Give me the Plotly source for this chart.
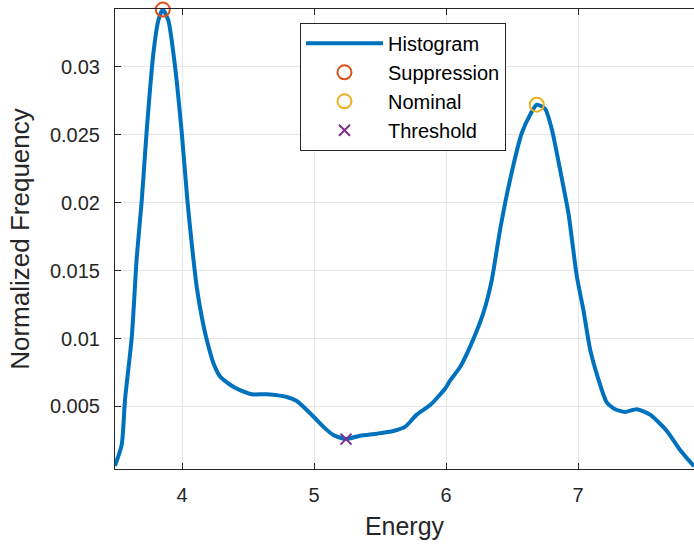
import plotly.graph_objects as go

# Histogram curve (Energy vs normalized frequency)
energy = [3.492, 3.543, 3.568, 3.619, 3.657, 3.695, 3.733, 3.783, 3.820, 3.854,
          3.896, 3.947, 3.998, 4.040, 4.073, 4.111, 4.149, 4.187, 4.237, 4.288,
          4.364, 4.439, 4.528, 4.642, 4.793, 4.869, 4.970, 5.071, 5.146, 5.242,
          5.348, 5.475, 5.601, 5.689, 5.778, 5.879, 5.992, 6.030, 6.106, 6.182,
          6.283, 6.346, 6.409, 6.485, 6.573, 6.636, 6.687, 6.750, 6.801, 6.864,
          6.927, 6.990, 7.040, 7.091, 7.154, 7.217, 7.280, 7.356, 7.444, 7.545,
          7.672, 7.773, 7.878]
freq = [0.00064, 0.0022, 0.0055, 0.0101, 0.0160, 0.0202, 0.0254, 0.0310, 0.0334, 0.0342,
        0.0334, 0.0300, 0.0251, 0.0202, 0.0170, 0.0138, 0.0116, 0.0099, 0.0082, 0.0072,
        0.0066, 0.0062, 0.0059, 0.0059, 0.0057, 0.0054, 0.0045, 0.0035, 0.0029, 0.0026,
        0.00285, 0.0030, 0.0032, 0.0035, 0.0044, 0.0051, 0.0063, 0.0069, 0.0079, 0.0094,
        0.0119, 0.0143, 0.0180, 0.0217, 0.0251, 0.02645, 0.0272, 0.0269, 0.0254, 0.0224,
        0.0192, 0.0146, 0.0121, 0.0092, 0.0070, 0.0053, 0.0048, 0.0046, 0.0048, 0.0044,
        0.0032, 0.0018, 0.0006]

suppression_x = [3.854]
suppression_y = [0.0342]
nominal_x = [6.687]
nominal_y = [0.0272]
threshold_x = [5.242]
threshold_y = [0.0026]

x_ticks = [4, 5, 6, 7]
x_ticklabels = ["4", "5", "6", "7"]
y_ticks = [0.005, 0.01, 0.015, 0.02, 0.025, 0.03]
y_ticklabels = ["0.005", "0.01", "0.015", "0.02", "0.025", "0.03"]

FONT = "Liberation Sans, Arial, Helvetica, sans-serif"
TXT = "#262626"

fig = go.Figure()
fig.add_trace(go.Scatter(x=energy, y=freq, mode="lines", name="Histogram",
                         line=dict(color="#0072BD", width=4, shape="spline", smoothing=0.6),
                         cliponaxis=False))
fig.add_trace(go.Scatter(x=suppression_x, y=suppression_y, mode="markers", name="Suppression",
                         marker=dict(symbol="circle-open", size=14, color="#D95319",
                                     line=dict(width=2, color="#D95319")), cliponaxis=False))
fig.add_trace(go.Scatter(x=nominal_x, y=nominal_y, mode="markers", name="Nominal",
                         marker=dict(symbol="circle-open", size=14, color="#EDB120",
                                     line=dict(width=2, color="#EDB120")), cliponaxis=False))
fig.add_trace(go.Scatter(x=threshold_x, y=threshold_y, mode="markers", name="Threshold",
                         marker=dict(symbol="x-thin-open", size=11, color="#7E2F8E",
                                     line=dict(width=2, color="#7E2F8E")), cliponaxis=False))

fig.update_layout(
    width=694, height=544,
    margin=dict(l=115, r=0, t=9, b=75),
    paper_bgcolor="white", plot_bgcolor="white",
    font=dict(family=FONT, size=20, color=TXT),
    showlegend=True,
    legend=dict(x=0.3195, y=0.97, xanchor="left", yanchor="top",
                bgcolor="white", bordercolor=TXT, borderwidth=1,
                font=dict(size=20, color="black"), itemwidth=77,
                tracegroupgap=0),
)
fig.update_xaxes(range=[3.492, 7.878], tickvals=x_ticks, ticktext=x_ticklabels,
                 showline=True, linecolor=TXT, linewidth=1, mirror="ticks",
                 ticks="inside", ticklen=6, tickcolor=TXT,
                 showgrid=True, gridcolor="#E6E6E6", gridwidth=1, zeroline=False,
                 tickfont=dict(size=20, color=TXT), ticklabelstandoff=8,
                 title=dict(text="Energy", font=dict(size=25, color=TXT), standoff=12))
fig.update_yaxes(range=[0.0004, 0.03424], tickvals=y_ticks, ticktext=y_ticklabels,
                 showline=True, linecolor=TXT, linewidth=1, mirror=False,
                 ticks="inside", ticklen=6, tickcolor=TXT,
                 showgrid=True, gridcolor="#E6E6E6", gridwidth=1, zeroline=False,
                 tickfont=dict(size=20, color=TXT), ticklabelstandoff=10,
                 title=dict(text="Normalized Frequency", font=dict(size=26, color=TXT), standoff=12))

fig.write_html("out.html")
